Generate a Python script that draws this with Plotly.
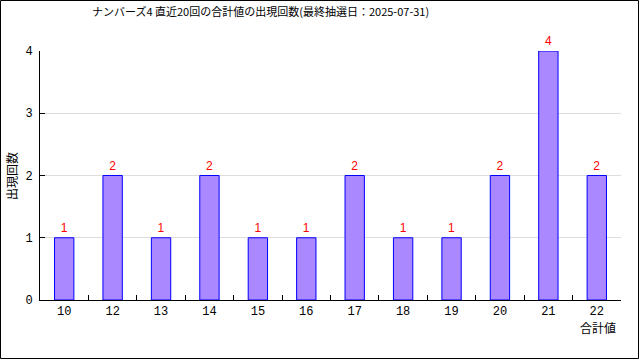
import plotly.graph_objects as go

categories = ["10", "12", "13", "14", "15", "16", "17", "18", "19", "20", "21", "22"]
counts = [1, 2, 1, 2, 1, 1, 2, 1, 1, 2, 4, 2]
y_ticks = [0, 1, 2, 3, 4]
title_text = "ナンバーズ4 直近20回の合計値の出現回数(最終抽選日：2025-07-31)"
y_title = "出現回数"
x_title = "合計値"

W, H = 640, 360
L, R, T, B = 40, 19, 51, 60
pw, ph = W - L - R, H - T - B

def px_x(p):
    return (p - L) / pw

def px_y(p):
    return (H - B - p) / ph

font_fam = "Liberation Mono, DejaVu Sans Mono, monospace"
jp_fam = "Noto Sans CJK JP, sans-serif"

fig = go.Figure()
fig.add_trace(go.Bar(
    x=categories, y=counts,
    marker=dict(color="#aa88ff", line=dict(color="#0000ff", width=1)),
    text=[str(c) for c in counts], textposition="outside",
    textfont=dict(color="#ff0000", size=12, family="Liberation Sans, Arial, sans-serif"),
    cliponaxis=False, width=0.4,
))

fig.update_layout(
    width=W, height=H,
    margin=dict(l=L, r=R, t=T, b=B, pad=0),
    paper_bgcolor="white", plot_bgcolor="white",
    showlegend=False,
    font=dict(family=font_fam, size=12, color="black"),
    xaxis=dict(
        type="category", tickson="boundaries", ticks="inside", ticklen=5,
        tickcolor="black", showline=True, linecolor="black", linewidth=1,
        showgrid=False, tickfont=dict(size=12, family=font_fam),
    ),
    yaxis=dict(
        range=[0, 4], tickvals=y_ticks, ticks="inside", ticklen=5,
        tickcolor="black", showline=True, linecolor="black", linewidth=1,
        showgrid=True, gridcolor="#dddddd", zeroline=False,
        tickfont=dict(size=12, family=font_fam), ticklabelstandoff=4,
    ),
    shapes=[dict(
        type="rect", xref="paper", yref="paper",
        x0=px_x(0.5), x1=px_x(638.5), y0=px_y(358.5), y1=px_y(0.5),
        line=dict(color="black", width=1), layer="above",
    )],
    annotations=[
        dict(text=title_text, xref="paper", yref="paper", x=px_x(260), y=px_y(11),
             xanchor="center", yanchor="middle", showarrow=False,
             font=dict(size=11, family=jp_fam, color="black")),
        dict(text=y_title, xref="paper", yref="paper", x=px_x(11), y=px_y(176),
             xanchor="center", yanchor="middle", showarrow=False, textangle=-90,
             font=dict(size=12, family=jp_fam, color="black")),
        dict(text=x_title, xref="paper", yref="paper", x=px_x(618), y=px_y(327),
             xanchor="right", yanchor="middle", showarrow=False,
             font=dict(size=12, family=jp_fam, color="black")),
    ],
)

fig.write_html("out.html")
